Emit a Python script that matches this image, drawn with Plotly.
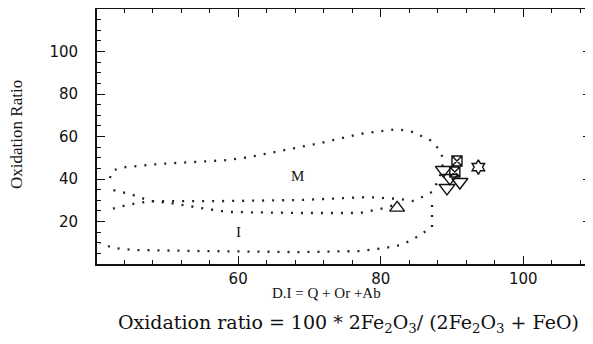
import plotly.graph_objects as go

# Boundary of field M (upper dotted envelope, closed along its lower edge)
m_x = [42.0, 42.5, 44.2, 49.1, 58.5, 61.7, 65.9, 71.5, 77.1, 82.3, 84.5, 86.9, 88.3, 88.8, 88.6, 88.1, 87.2,
       85.8, 84.4, 82.7, 78.2, 68.7, 57.1, 47.7, 44.4, 42.3]
m_y = [40.5, 44.2, 45.6, 47.1, 48.9, 50.4, 53.2, 56.9, 61.2, 63.5, 62.1, 58.4, 53.6, 48.9, 44.2, 39.5, 33.9,
       31.5, 29.6, 30.6, 31.5, 30.1, 29.6, 29.6, 27.8, 25.9]

# Second dotted boundary crossing between M and I
b_x = [42.5, 44.9, 47.7, 50.5, 54.7, 58.5, 68.7, 77.1, 80.6, 82.7]
b_y = [34.8, 32.9, 29.6, 28.7, 26.4, 24.5, 24.0, 24.0, 26.4, 28.7]

# Boundary of field I (right and lower edge)
i_x = [87.2, 87.2, 85.7, 84.4, 82.7, 80.6, 77.1, 68.7, 54.7, 45.3, 42.5, 40.6]
i_y = [27.8, 17.4, 14.1, 11.3, 8.9, 7.5, 6.1, 5.6, 6.1, 6.6, 7.5, 9.9]

# Samples
tri_down_x = [88.8, 89.7, 91.1, 89.3]
tri_down_y = [44.2, 40.5, 38.6, 35.8]
sqx_x = [90.7, 90.4]
sqx_y = [48.5, 43.3]
star_x = [93.7]
star_y = [45.6]
tri_up_x = [82.3]
tri_up_y = [26.4]

x_major = [60, 80, 100]
y_major = [20, 40, 60, 80, 100]

fig = go.Figure()
dot = dict(color="#222222", width=2.3, dash="2px,8px")
for xs, ys in [(m_x, m_y), (b_x, b_y), (i_x, i_y)]:
    fig.add_trace(go.Scatter(x=xs, y=ys, mode="lines", line=dot, showlegend=False, hoverinfo="skip"))

fig.add_trace(go.Scatter(x=tri_down_x, y=tri_down_y, mode="markers",
                         marker=dict(symbol="triangle-down-open", size=14, color="#111", line=dict(width=1.4)),
                         showlegend=False))
fig.add_trace(go.Scatter(x=sqx_x, y=sqx_y, mode="markers",
                         marker=dict(symbol="square-x-open", size=10, color="#111", line=dict(width=1.4)),
                         showlegend=False))
fig.add_trace(go.Scatter(x=star_x, y=star_y, mode="markers",
                         marker=dict(symbol="hexagram-open", size=11, color="#111", line=dict(width=1.4)),
                         showlegend=False))
fig.add_trace(go.Scatter(x=tri_up_x, y=tri_up_y, mode="markers",
                         marker=dict(symbol="triangle-up-open", size=13, color="#111", line=dict(width=1.4)),
                         showlegend=False))

tickfont = dict(family="DejaVu Sans", size=15, color="#111")
fig.update_xaxes(range=[40.2, 109.5], tickvals=x_major, ticks="inside", ticklen=8, tickwidth=1.2,
                 tickcolor="#111", showline=True, linecolor="#111", linewidth=1.8, mirror="allticks",
                 showgrid=False, zeroline=False, tickfont=tickfont, automargin=False,
                 minor=dict(tick0=40, dtick=4, ticks="inside", ticklen=4, tickcolor="#111", showgrid=False))
fig.update_yaxes(range=[0, 120], tickvals=y_major, ticks="inside", ticklen=8, tickwidth=1.2,
                 tickcolor="#111", showline=True, linecolor="#111", linewidth=1.8, mirror="allticks",
                 showgrid=False, zeroline=False, tickfont=tickfont, ticklabelstandoff=14, automargin=False,
                 minor=dict(tick0=0, dtick=5, ticks="inside", ticklen=4, tickcolor="#111", showgrid=False))

serif = "Liberation Serif"
ann = [
    dict(x=68.3, y=41.4, xref="x", yref="y", text="M", font=dict(family=serif, size=15, color="#111")),
    dict(x=60, y=15, xref="x", yref="y", text="I", font=dict(family=serif, size=15, color="#111")),
    dict(x=-0.162, y=0.51, xref="paper", yref="paper", text="Oxidation Ratio", textangle=-90,
         font=dict(family=serif, size=17, color="#111")),
    dict(x=0.4636, y=-0.114, xref="paper", yref="paper", text="D.I = Q + Or +Ab",
         font=dict(family=serif, size=15, color="#111")),
    dict(x=0.51, y=-0.235, xref="paper", yref="paper",
         text="Oxidation ratio = 100 * 2Fe<sub>2</sub>O<sub>3</sub>/ (2Fe<sub>2</sub>O<sub>3</sub> + FeO)",
         font=dict(family="DejaVu Serif", size=19, color="#111")),
]
for a in ann:
    a["showarrow"] = False
    a["xanchor"] = "center"
    a["yanchor"] = "middle"
    fig.add_annotation(**a)

# page body adds an 8px offset; figure is sized so the plot lands where the reference has it
fig.update_layout(width=585, height=336, margin=dict(l=89, r=2, t=1, b=80, autoexpand=False),
                  plot_bgcolor="white", paper_bgcolor="white")
fig.write_html("out.html")
